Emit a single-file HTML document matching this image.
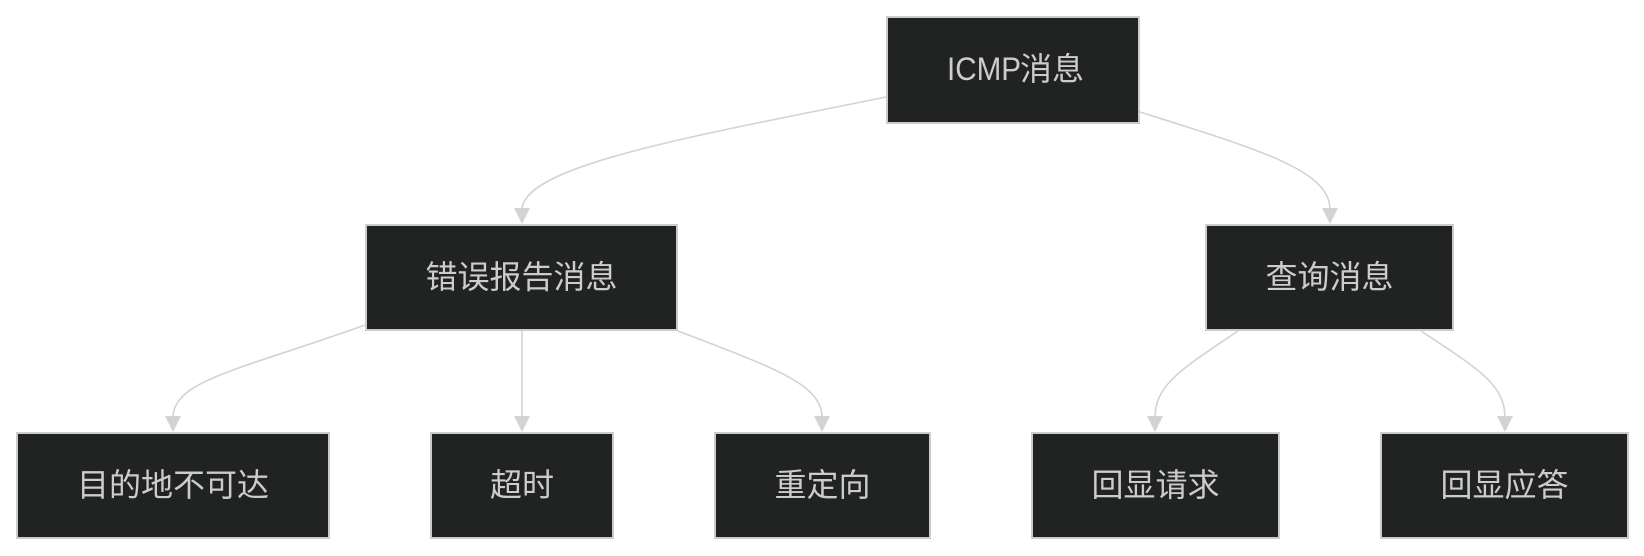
<!DOCTYPE html>
<html>
<head>
<meta charset="utf-8">
<style>
  html, body { margin: 0; padding: 0; background: #ffffff; }
  svg { display: block; }
  .box { fill: #212322; stroke: #cccccc; stroke-width: 2; }
  .lbl { fill: #cccccc; font-family: "Liberation Sans", "Noto Sans CJK SC", sans-serif; font-size: 32px; text-anchor: middle; dominant-baseline: central; }
  .lbls { fill: #cccccc; font-family: "Liberation Sans", "Noto Sans CJK SC", sans-serif; font-size: 32px; text-anchor: start; dominant-baseline: central; }
  .edge { fill: none; stroke: #d3d3d3; stroke-width: 1.6; }
  .head { fill: #d3d3d3; }
</style>
</head>
<body>
<svg width="1644" height="556" viewBox="0 0 1644 556" xmlns="http://www.w3.org/2000/svg">
  <!-- edges -->
  <path class="edge" d="M886,97 C700,135 522,165 522,210"/>
  <polygon class="head" points="514,208 530,208 522,224"/>

  <path class="edge" d="M1140,112 C1260,150 1330,170 1330,210"/>
  <polygon class="head" points="1322,208 1338,208 1330,224"/>

  <path class="edge" d="M365,325 C240,370 173,380 173,418"/>
  <polygon class="head" points="165,416 181,416 173,432"/>

  <path class="edge" d="M522,331 L522,418"/>
  <polygon class="head" points="514,416 530,416 522,432"/>

  <path class="edge" d="M678,331 C780,370 822,385 822,418"/>
  <polygon class="head" points="814,416 830,416 822,432"/>

  <path class="edge" d="M1238,331 C1180,370 1155,385 1155,418"/>
  <polygon class="head" points="1147,416 1163,416 1155,432"/>

  <path class="edge" d="M1421,331 C1480,370 1505,385 1505,418"/>
  <polygon class="head" points="1497,416 1513,416 1505,432"/>

  <!-- nodes -->
  <rect class="box" x="887" y="17" width="252" height="106"/>
  <text class="lbls" x="947" y="69" textLength="74" lengthAdjust="spacingAndGlyphs">ICMP</text>
  <text class="lbls" x="1020" y="69">消息</text>

  <rect class="box" x="366" y="225" width="311" height="105"/>
  <text class="lbl" x="521.5" y="277">错误报告消息</text>

  <rect class="box" x="1206" y="225" width="247" height="105"/>
  <text class="lbl" x="1329.5" y="277">查询消息</text>

  <rect class="box" x="17" y="433" width="312" height="105"/>
  <text class="lbl" x="173" y="485">目的地不可达</text>

  <rect class="box" x="431" y="433" width="182" height="105"/>
  <text class="lbl" x="522" y="485">超时</text>

  <rect class="box" x="715" y="433" width="215" height="105"/>
  <text class="lbl" x="822.5" y="485">重定向</text>

  <rect class="box" x="1032" y="433" width="247" height="105"/>
  <text class="lbl" x="1155.5" y="485">回显请求</text>

  <rect class="box" x="1381" y="433" width="247" height="105"/>
  <text class="lbl" x="1504.5" y="485">回显应答</text>
</svg>
</body>
</html>
